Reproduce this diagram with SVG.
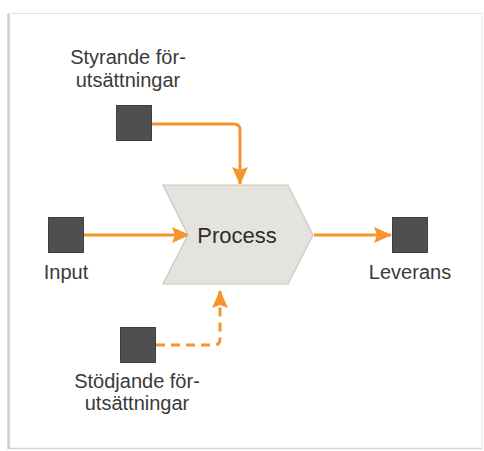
<svg xmlns="http://www.w3.org/2000/svg" width="484" height="451" viewBox="0 0 484 451">
  <defs>
    <style>
      .lbl { font-family: "Liberation Sans", Arial, sans-serif; font-size: 20px; fill: #3a3a3a; text-anchor: middle; }
      .proc-lbl { font-size: 22px; fill: #2e2e2e; }
      .box { fill: #4f4f4f; stroke: #3f3f3f; stroke-width: 1; }
      .proc { fill: #e5e3de; stroke: #c9c7c1; stroke-width: 1.2; }
      .flow { fill: none; stroke: #f6952b; stroke-width: 3; }
      .dashed { stroke-dasharray: 9 6; }
    </style>
    <marker id="arrow" viewBox="0 0 18 16" refX="17" refY="8" markerWidth="18" markerHeight="16" markerUnits="userSpaceOnUse" orient="auto">
      <path d="M0,0 L18,8 L0,16 L3,8 Z" fill="#f6952b"/>
    </marker>
  </defs>

  <!-- page frame -->
  <rect x="0" y="0" width="484" height="451" fill="#ffffff"/>
  <rect x="9" y="13.5" width="473" height="435" fill="#ffffff" stroke="#e2e2e2" stroke-width="1"/>
  <line x1="8.5" y1="14" x2="8.5" y2="449" stroke="#cdcdcd" stroke-width="2.5"/>
  <line x1="9" y1="448.5" x2="482" y2="448.5" stroke="#d6d6d6" stroke-width="1.5"/>

  <!-- connectors -->
  <g id="connectors">
    <path class="flow" d="M152,124 H234 Q240,124 240,130 V184" marker-end="url(#arrow)"/>
    <path class="flow" d="M83,235 H189" marker-end="url(#arrow)"/>
    <path class="flow" d="M314,235 H391" marker-end="url(#arrow)"/>
    <path class="flow dashed" d="M156,345 H214 Q220,345 220,339 V292"/>
    <path class="flow" d="M220,300 V291" marker-end="url(#arrow)"/>
  </g>

  <!-- nodes -->
  <g id="node-process">
    <polygon class="proc" points="163,185 288,185 313,235 288,284 163,284 188,235"/>
    <text class="lbl proc-lbl" x="237" y="243">Process</text>
  </g>

  <g id="node-styrande">
    <rect class="box" x="116.5" y="105.5" width="35" height="35"/>
    <text class="lbl" x="128" y="64">Styrande för-</text>
    <text class="lbl" x="128" y="87">utsättningar</text>
  </g>

  <g id="node-input">
    <rect class="box" x="48.5" y="217.5" width="35" height="35"/>
    <text class="lbl" x="66" y="279">Input</text>
  </g>

  <g id="node-leverans">
    <rect class="box" x="392.5" y="217.5" width="35" height="35"/>
    <text class="lbl" x="410" y="279">Leverans</text>
  </g>

  <g id="node-stodjande">
    <rect class="box" x="120.5" y="327.5" width="35" height="35"/>
    <text class="lbl" x="137" y="388">Stödjande för-</text>
    <text class="lbl" x="137" y="410">utsättningar</text>
  </g>
</svg>
